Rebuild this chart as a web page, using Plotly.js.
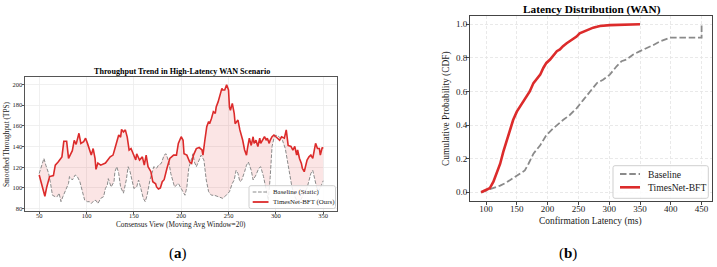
<!DOCTYPE html>
<html><head><meta charset="utf-8">
<script src="https://cdn.plot.ly/plotly-3.0.1.min.js"></script>
<style>html,body{margin:0;padding:0;background:#fff}#c{width:717px;height:267px}</style>
</head><body><div id="c"></div>
<script>
// Panel (a): throughput trend
const ourX = [50,56,58,61,65,67,70,74,76,79,81,85,87,89,92,94,97,99,101,103,105,107,109,110,112,115,120,125,128,130,132,134,136,137,139,141,143,145,147,150,152,153,156,159,161,163,165,168,170,173,174,176,178,180,182,185,188,192,195,197,200,202,203,206,209,211,213,216,219,222,223,225,227,229,230,232,234,236,237,239,241,243,244,246,248,250,251,252,254,256,257,260,262,263,265,267,269,270,272,274,276,277,279,281,283,284,286,288,290,291,293,294,296,298,300,302,304,306,309,311,312,313,316,318,320,322,323,325,327,328,330,332,333,335,337,339,340,342,344,346,347,349,350];
const ourY = [112.5,92,101,111,112,122,125,130,145,145,128.5,136,146,142,152.7,143,144.6,148,143,136.6,131.7,138,128.5,118,124,122,124,130,131.7,138,146,151,149,156.5,154,156,149,136.6,138,131.7,127,133,127,130,122,131.7,120.5,115.7,106,104,101,99,100,106,108,119,128.5,131.7,131.7,143,149.4,146,133,131.7,125,123.7,131.7,138,139,136.6,131.7,146,159,164,162,167,173.6,172,178,183,191,196,194.5,194.5,199.5,194.5,178,175,181.6,172,162,165.5,156,152.7,146,136.6,131.7,138,148,141,149.4,143,146,140,148,143,146,149.4,146,148,143,146,149.4,151,149.4,148,146,149.4,148,156,149.4,141,140,136.6,140,131.7,136.6,128.5,123.7,119,115.7,122,127,130,131.7,128.5,135,143,138,138,131.7,139,138];
const baseX = [50,53,55,57,60,62,64,67,69,71,73,75,78,81,82,85,88,90,93,96,98,101,103,105,108,110,112,115,118,120,122,123,125,126,129,130,132,134,136,138,139,142,144,146,148,150,153,155,157,160,162,164,167,170,171,174,176,179,182,184,187,189,191,193,197,199,202,204,206,208,211,212.5,214,216,219,221,224,226.5,229,232,235,239,241,244,246,247.5,251,254,256,258,260,262,264,267,269,271,274,276,279,282,284,287,289,291,292,294,296,298,300,303.5,307,310,312,314.5,317,320,323,326,330,333,335,337,339,341,343,345,347,350];
const baseY = [114,122,128.5,122,114,104.4,93,91.6,91.6,95,86.8,91.6,98,104.4,111,107.7,112.5,111.5,106,96.4,88.4,86.8,86.8,85,88,88,85,90,91.6,99.6,103,109,104.4,101,106,115.7,120.5,114,101,96.4,95,107.7,120.5,115.7,107.7,99.6,101,107.7,101,90,86.8,93,107.7,115.7,120.5,119,122,123.7,131.7,133,125,114,107.7,101,104.4,101,96.4,93,101,119,128.5,133,125,120.5,127,131.7,127,107.7,96.4,93,93,91.6,91.6,90,91.6,93,96.4,104.4,107.7,117,114,106,107.7,115.7,122,125,117,107.7,112.5,119,120.5,111,101,92,88,110,140,148,151,149.4,146,138,127,114,101,92,86,88,95,100,107,114,117,108,101,97,100,107];
const xTicksA = [50,100,150,200,250,300,350];
const yTicksA = [80,100,120,140,160,180,200];
const seriesNamesA = ['Baseline (Static)', 'TimesNet-BFT (Ours)'];

// Panel (b): latency CDF
const cdfOurX = [92,100,106,112,117,123,128,133,139,144,150,155,160,166,171,177,182,188,193,198,204,209,215,220,225,231,236,242,247,252,258,263,269,274,280,285,301,317,350];
const cdfOurY = [0,0.014,0.024,0.063,0.113,0.17,0.24,0.30,0.37,0.43,0.48,0.51,0.54,0.57,0.60,0.65,0.67,0.70,0.74,0.77,0.79,0.81,0.84,0.85,0.87,0.887,0.90,0.917,0.927,0.946,0.956,0.965,0.972,0.98,0.985,0.99,0.995,0.998,1.0];
const cdfBaseX = [92,100,112,123,133,144,155,163,169,177,188,198,209,215,225,236,247,258,269,280,290,301,312,320,328,339,350,361,372,382,393,399,450,450];
const cdfBaseY = [0,0.01,0.024,0.04,0.058,0.083,0.11,0.13,0.17,0.23,0.28,0.34,0.38,0.40,0.43,0.46,0.50,0.55,0.60,0.65,0.67,0.70,0.75,0.78,0.79,0.82,0.84,0.857,0.877,0.897,0.91,0.92,0.92,1.0];
const xTicksB = [100,150,200,250,300,350,400,450];
const yTicksB = [0,0.2,0.4,0.6,0.8,1.0];
const seriesNamesB = ['Baseline', 'TimesNet-BFT'];

const SERIF = 'Liberation Serif, Times New Roman, serif';
const RED = '#dc2b2b';
const GREY = '#8a8a8a';
const DASH_A = '3.7px,1.6px';
const DASH_B = '6.5px,2.8px';
const W = 717, H = 267;
const px = v => v / W, py = v => 1 - v / H;

const traces = [
  {x: baseX, y: baseY, xaxis:'x', yaxis:'y', type:'scatter', mode:'lines', name:seriesNamesA[0],
   line:{color:GREY, width:1, dash:DASH_A}},
  {x: ourX, y: ourY, xaxis:'x', yaxis:'y', type:'scatter', mode:'lines', name:seriesNamesA[1],
   line:{color:RED, width:1.6}, fill:'tonexty', fillcolor:'rgba(220,43,43,0.12)'},
  {x: cdfBaseX, y: cdfBaseY, xaxis:'x2', yaxis:'y2', type:'scatter', mode:'lines', name:seriesNamesB[0],
   line:{color:GREY, width:1.8, dash:DASH_B}},
  {x: cdfOurX, y: cdfOurY, xaxis:'x2', yaxis:'y2', type:'scatter', mode:'lines', name:seriesNamesB[1],
   line:{color:RED, width:2.6}}
];

const axA = {showline:true, mirror:true, linecolor:'#555', linewidth:1, ticks:'outside', ticklen:2.5, tickcolor:'#555',
  gridcolor:'#ececec', gridwidth:0.8, zeroline:false, tickfont:{family:SERIF, size:6.5, color:'#222'}, automargin:false};
const axB = {showline:true, mirror:true, linecolor:'#444', linewidth:1, ticks:'outside', ticklen:3, tickcolor:'#444',
  gridcolor:'#e4e4e4', gridwidth:0.8, griddash:'3px,2px', zeroline:false, tickfont:{family:SERIF, size:9, color:'#222'}, automargin:false};

// custom compact legends (matplotlib style)
function legendShapes(box, rows) {
  const r = 2, [x0, y0, x1, y1] = box;
  const path = `M${px(x0+r)},${py(y0)} L${px(x1-r)},${py(y0)} Q${px(x1)},${py(y0)} ${px(x1)},${py(y0+r)} L${px(x1)},${py(y1-r)} Q${px(x1)},${py(y1)} ${px(x1-r)},${py(y1)} L${px(x0+r)},${py(y1)} Q${px(x0)},${py(y1)} ${px(x0)},${py(y1-r)} L${px(x0)},${py(y0+r)} Q${px(x0)},${py(y0)} ${px(x0+r)},${py(y0)} Z`;
  const s = [{type:'path', xref:'paper', yref:'paper', path, fillcolor:'rgba(255,255,255,0.85)', line:{color:'#cfcfcf', width:1}}];
  rows.forEach(rw => s.push({type:'line', xref:'paper', yref:'paper', x0:px(rw.lx0), x1:px(rw.lx1), y0:py(rw.y), y1:py(rw.y), line:rw.line}));
  return s;
}
const shapes = [].concat(
  legendShapes([249, 185.7, 335.5, 208.5], [
    {lx0:252.7, lx1:268.5, y:192, line:{color:GREY, width:1, dash:DASH_A}},
    {lx0:252.7, lx1:268.5, y:202, line:{color:RED, width:1.8}}]),
  legendShapes([613, 165.7, 708.3, 198.3], [
    {lx0:620, lx1:640, y:174, line:{color:GREY, width:1.8, dash:DASH_B}},
    {lx0:620, lx1:640, y:187.3, line:{color:RED, width:2.6}}])
);

const ann = (text, x, y, size, opts) => Object.assign({text, xref:'paper', yref:'paper', x:px(x), y:py(y), xanchor:'center', yanchor:'middle', showarrow:false, font:{family:SERIF, size, color:'#1a1a1a'}}, opts||{});

const layout = {
  width:W, height:H, autosize:false,
  margin:{l:0,r:0,t:0,b:0}, paper_bgcolor:'#fff', plot_bgcolor:'#fff',
  font:{family:SERIF, color:'#111'}, showlegend:false,
  xaxis: Object.assign({}, axA, {domain:[px(25),px(336.7)], range:[35,364.3], tickvals:xTicksA, anchor:'y', ticklabelstandoff:-4}),
  yaxis: Object.assign({}, axA, {domain:[py(210.7),py(77.3)], range:[78.1,206.7], tickvals:yTicksA, anchor:'x', ticklabelstandoff:-2}),
  xaxis2: Object.assign({}, axB, {domain:[px(470),px(711.7)], range:[74,466.4], tickvals:xTicksB, anchor:'y2', ticklabelstandoff:-4}),
  yaxis2: Object.assign({}, axB, {domain:[py(200.7),py(15.7)], range:[-0.05,1.051], tickvals:yTicksB, tickformat:'.1f', anchor:'x2', ticklabelstandoff:-3}),
  shapes,
  annotations:[
    ann('<b>Throughput Trend in High-Latency WAN Scenario</b>', 181.5, 71, 8.1, {font:{family:SERIF, size:8.1, color:'#000'}}),
    ann('Smoothed Throughput (TPS)', 6, 144, 7.3, {textangle:-90}),
    ann('Consensus View (Moving Avg Window=20)', 181, 224.5, 7.3),
    ann(seriesNamesA[0], 271, 192, 6.9, {xanchor:'left'}),
    ann(seriesNamesA[1], 271, 202, 6.9, {xanchor:'left'}),
    ann('<b>Latency Distribution (WAN)</b>', 591.5, 9.5, 11.3, {font:{family:SERIF, size:11.3, color:'#000'}}),
    ann('Cumulative Probability (CDF)', 446, 108, 9.4, {textangle:-90}),
    ann('Confirmation Latency (ms)', 590, 221, 9.4),
    ann(seriesNamesB[0], 646, 174, 9.6, {xanchor:'left'}),
    ann(seriesNamesB[1], 646, 187.3, 9.6, {xanchor:'left'}),
    ann('(<b>a</b>)', 178, 253, 15, {font:{family:SERIF, size:15, color:'#000'}}),
    ann('(<b>b</b>)', 568, 253, 15, {font:{family:SERIF, size:15, color:'#000'}})
  ]
};

Plotly.newPlot('c', traces, layout, {staticPlot:true, displayModeBar:false});
</script>
</body></html>
